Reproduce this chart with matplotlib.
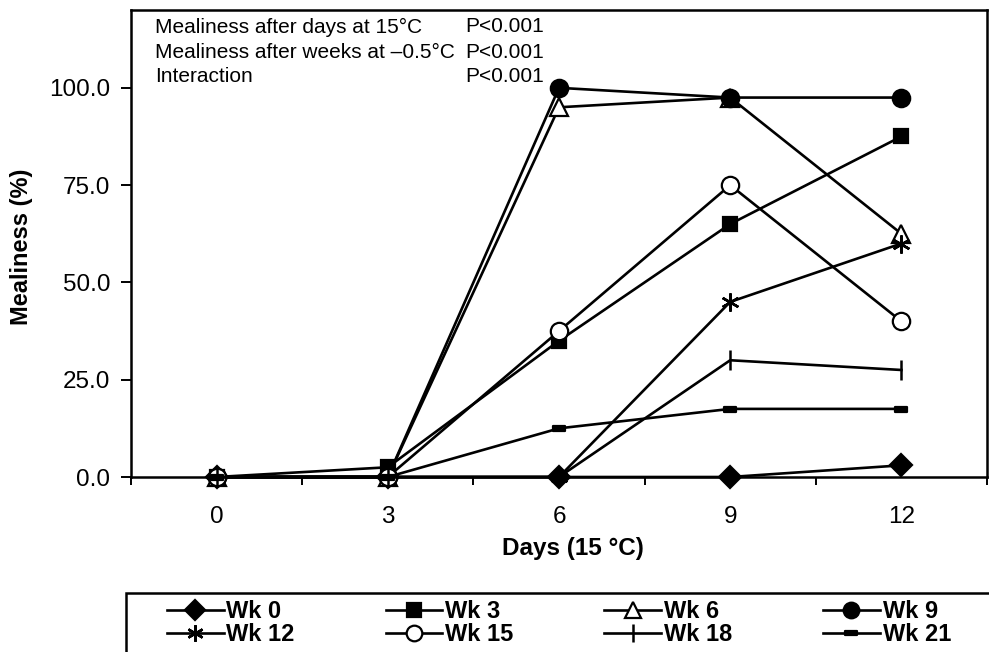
import matplotlib
matplotlib.use("Agg")
import matplotlib.pyplot as plt
from matplotlib.patches import Rectangle
from matplotlib.path import Path
import numpy as np

plt.rcParams['font.family'] = ['Liberation Sans', 'DejaVu Sans']

# Days at 15 °C (category axis)
days = ["0", "3", "6", "9", "12"]

# Mealiness (%) for each storage period at -0.5 °C
wk0 = [0.0, 0.0, 0.0, 0.0, 3.0]
wk3 = [0.0, 2.5, 35.0, 65.0, 87.5]
wk6 = [0.0, 0.0, 95.0, 97.5, 62.5]
wk9 = [0.0, 0.0, 100.0, 97.5, 97.5]
wk12 = [0.0, 0.0, 0.0, 45.0, 60.0]
wk15 = [0.0, 0.0, 37.5, 75.0, 40.0]
wk18 = [0.0, 0.0, 0.0, 30.0, 27.5]
wk21 = [0.0, 0.0, 12.5, 17.5, 17.5]

series_names = ["Wk 0", "Wk 3", "Wk 6", "Wk 9", "Wk 12", "Wk 15", "Wk 18", "Wk 21"]
series_values = [wk0, wk3, wk6, wk9, wk12, wk15, wk18, wk21]

# short bar marker
dash_marker = Path([(-1, -0.4), (1, -0.4), (1, 0.4), (-1, 0.4), (-1, -0.4)],
                   [Path.MOVETO, Path.LINETO, Path.LINETO, Path.LINETO, Path.CLOSEPOLY])

styles = [
    dict(marker='D', markersize=11, markerfacecolor='black'),
    dict(marker='s', markersize=10.5, markerfacecolor='black'),
    dict(marker='^', markersize=12.5, markerfacecolor='white'),
    dict(marker='o', markersize=12.5, markerfacecolor='black'),
    dict(marker=(6, 2, 0), markersize=13, markerfacecolor='black', markeredgewidth=1.8),
    dict(marker='o', markersize=12.5, markerfacecolor='white'),
    dict(marker='|', markersize=15, markerfacecolor='black', markeredgewidth=1.8),
    dict(marker=dash_marker, markersize=9, markerfacecolor='black'),
]

W, H = 989, 652
fig = plt.figure(figsize=(W / 100, H / 100), dpi=100)
ax = fig.add_axes([131 / W, 1 - 477 / H, (987 - 131) / W, (477 - 10) / H])

x = np.arange(len(days))
handles = {}
for name, vals, st in zip(series_names, series_values, styles):
    kw = dict(color='black', linewidth=1.9, markeredgecolor='black', markeredgewidth=1.6)
    kw.update(st)
    (ln,) = ax.plot(x, vals, label=name, clip_on=False, **kw)
    handles[name] = ln

ax.set_xlim(-0.5, len(days) - 0.5)
ax.set_ylim(0, 120)

ax.set_xticks(x)
ax.set_xticklabels(days)
ax.set_xticks(np.arange(-0.5, len(days), 1.0), minor=True)
ax.tick_params(axis='x', which='major', length=0, pad=21, labelsize=17.5)
ax.tick_params(axis='x', which='minor', length=6, width=1.4, direction='out')

ax.set_yticks([0, 25, 50, 75, 100])
ax.set_yticklabels([f"{v:.1f}" for v in [0, 25, 50, 75, 100]])
ax.tick_params(axis='y', length=7, width=1.4, direction='out', pad=8, labelsize=17.5)

for s in ax.spines.values():
    s.set_linewidth(1.8)
    s.set_color('black')

fig.text(573 / W, 1 - 548 / H, "Days (15 °C)", fontsize=17.5, fontweight='bold',
         ha='center', va='center')
fig.text(22 / W, 1 - 247 / H, "Mealiness (%)", rotation=90, fontsize=17,
         fontweight='bold', ha='center', va='center')

# statistics block
stats_left = ["Mealiness after days at 15°C",
              "Mealiness after weeks at \u20130.5°C",
              "Interaction"]
stats_right = ["P<0.001", "P<0.001", "P<0.001"]
for i, (l, r) in enumerate(zip(stats_left, stats_right)):
    yy = 1 - (27 + 25 * i - 10) / 467
    ax.text(0.028, yy, l, transform=ax.transAxes, fontsize=15, va='center', ha='left')
    ax.text(0.391, yy, r, transform=ax.transAxes, fontsize=15, va='center', ha='left')

# legend frame running off the lower right of the figure
fig.patches.append(Rectangle((126 / W, -0.05), 1.0, 0.05 + 1 - 593 / H,
                             transform=fig.transFigure, fill=False,
                             edgecolor='black', linewidth=1.8))

order = ["Wk 0", "Wk 12", "Wk 3", "Wk 15", "Wk 6", "Wk 18", "Wk 9", "Wk 21"]
leg = fig.legend([handles[n] for n in order], order, ncol=4,
                 loc='upper left', bbox_to_anchor=(167 / W, 1 - 600 / H),
                 frameon=False, borderpad=0, borderaxespad=0,
                 handlelength=2.4, handletextpad=0.12, columnspacing=3.85,
                 labelspacing=0.0, markerscale=0.9,
                 prop=dict(family='Liberation Sans', weight='bold', size=17))

fig.savefig("out.png", dpi=100)
